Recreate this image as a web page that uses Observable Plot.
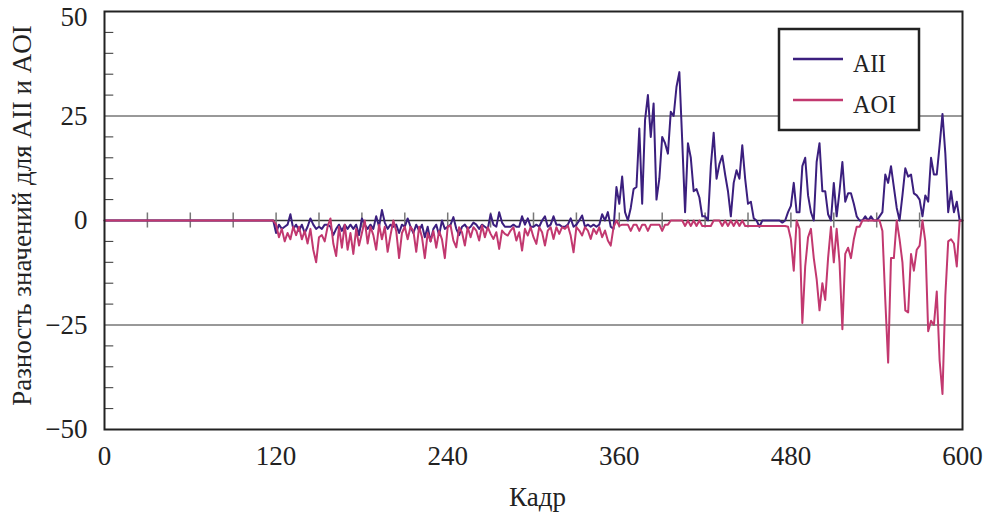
<!DOCTYPE html>
<html>
<head>
<meta charset="utf-8">
<script src="https://cdn.jsdelivr.net/npm/d3@7"></script>
<script src="https://cdn.jsdelivr.net/npm/@observablehq/plot@0.6"></script>
<style>
  html, body { margin: 0; padding: 0; background: #fff; }
  #chart { width: 985px; height: 521px; }
</style>
</head>
<body>
<div id="chart"></div>
<script>
// ---- data (frame index -> difference value) ----
const seriesNames = ["AII", "AOI"];
const seriesColors = ["#3b1f7e", "#c2386f"];

const leadFrames = [0, 118];          // flat section before tracking starts
const leadValues = [0, 0];
const startFrame = 120;               // sampled every 2 frames from here
const frameStep = 2;

const aii120to240 = [-3,-1,-2,-1.5,-1,1.5,-2,-1,-2.5,-1,-3,-1.5,0.5,-1,-2,-1.5,-2,-1,-1,-1.5,-3.5,-2,-1,-2.5,-1,-2,-1,-2,-1,-3.5,0.5,-1,-2,-1,-2,1,-1.5,2.5,-0.5,-2,-1,-1.5,-1,-3,-1,-1.5,0.5,-1.5,-3,-1,-2.5,-1,-4,-1.5,-5,-2,-1,-3.5,0,-2,-1.5];
const aii242to358 = [-1,0.8,-2,-3.5,-1.5,-1,-2,-1.5,-0.5,-1,-2,-1,-1.5,-2,1.5,-1,-1.5,2,-0.5,-1.5,-1.5,-1.5,-1,-1.5,-1.5,1,-1,0.5,-1.5,-1.5,-1,-1.5,0,1,-1.5,-1,1,-1,-1,-1.5,-1.5,-1,0.5,-1.5,-1,0,1.2,-1.5,-1,-1.5,-1,-1.5,-1,1.5,0,2,-1.5,-2,8];
const aii360to470 = [4,10.5,2,0,3,7.5,8,22,4,24,30,20,28,5,10,20,18.5,16,26,25,32,35.5,19,2,18.5,15,7,7.5,5.5,1,1,0,13,21,10,13.5,15.5,11,7,1,9,12,10,18,10,4,4.5,0.5,0,-1.5,0,0,0,0,0,0];
const aii472to600 = [0,-0.5,0,2,3.5,9,2,2,13,15,6,2,0,14,18.5,7,7,1.5,0,9,1,7,14,4.5,6.5,6.5,4,1,0,0,1,0,1,0,0,1,2,11,9,13,8,3,0,6,12.5,10.5,11,6.5,6,5,1,6,4.5,15,11,11,18,25.5,16,2,7,2,4.5,0,0];

const aoi120to240 = [-1,-4,-2,-5,-3,-4.5,-1.5,-3.5,-1.5,-4.5,-2.5,-5.5,-2,-7,-10,-4,-3.5,-5,-1.5,0.5,-5.5,-8.5,-1.5,-6.5,-1,-7,-3,-8,-2,-6,-3,0,-5.5,-1.5,-3.5,-7,-1,-4.5,-1.5,-7.5,-3.5,0,-2.5,-9,-3,-1.5,-4.5,-1.5,-2.5,-7.5,-1.5,-4,-9,-3,-5,-2.5,-6.5,-2.5,-4.5,-9,-1.5];
const aoi242to358 = [-1.2,-4.8,-6.4,-1.6,-2.8,-6,-1.6,-4,-1.6,-2.4,-4.8,-1.2,-4,-1.6,-3.2,-4.4,-2.8,-6.8,-2.4,-3.2,-3.6,-2.4,-1.6,-4.8,-2.8,-7.2,-2,-3.6,-1.6,-4,-5.6,-1.6,-2.8,-6,-2.4,-1.6,-4.4,-1.6,-3.2,-1.6,-2,-1.2,-3.6,-7.6,-1.6,-2.4,-3.6,-1.6,-2.4,-4.4,-2,-3.2,-1.6,-4,-2.4,-4.8,-6,-1.6,0];
const aoi360to470 = [-1.3,-1,-1,-1,-2.5,-1,-1,-2.5,-1,-1,-2.5,-1,-1,-1,-1,-2.5,-1,-1,0,0,0,0,0,-1.3,0,-1.3,0,-1.3,0,-1.3,-1.3,-1.3,-1.3,0,0,0,-1.3,0,-1.3,0,-1.3,0,-1.3,0,-1.3,-1.3,-1.3,-1.3,-1.3,-1.3,-1.3,-1.3,-1.3,-1.3,-1.3,-1.3];
const aoi472to600 = [-1.3,-1.3,-1.3,-1.5,-4.5,-12,0,-2,-24.5,-11,-4,-2,-9,-14,-21.5,-15,-19,-9,-1.5,-10,-2,-10,-26,-8,-6.5,-9,-4.5,-1.5,-1.5,0,0,0,0,0,0,0,-2.5,-19,-34,-9,-9,0,-4.5,-10,-21.5,-22,-8,-12,-7,-6,0,-5,-26.5,-24,-25,-17,-33.5,-41.5,-18,-5,-4.5,-5.5,-11,0,0];

const xTicks = [0, 120, 240, 360, 480, 600];
const yTicks = [-50, -25, 0, 25, 50];
const yGrid = [-25, 25];
const yMinorTicks = [-45,-40,-35,-30,-20,-15,-10,-5,5,10,15,20,30,35,40,45];
const zeroLineTicks = [30,60,90,120,150,180,210,240,270,300,330,360,390,420,450,480,510,540,570];
const xLabel = "Кадр";
const yLabel = "Разность значений для AII и AOI";

// ---- build table ----
function buildSeries(name, parts) {
  const rows = leadFrames.map((f, i) => ({frame: f, value: leadValues[i], series: name}));
  const vals = [].concat(...parts);
  vals.forEach((v, i) => rows.push({frame: startFrame + i * frameStep, value: v, series: name}));
  return rows;
}
const aiiRows = buildSeries("AII", [aii120to240, aii242to358, aii360to470, aii472to600]);
const aoiRows = buildSeries("AOI", [aoi120to240, aoi242to358, aoi360to470, aoi472to600]);

const fmt = d => d < 0 ? "\u2212" + Math.abs(d) : String(d);
const FONT = "'Liberation Serif', 'Times New Roman', serif";
const yMax = d3.max(yTicks);

const chart = Plot.plot({
  width: 985,
  height: 521,
  marginLeft: 104,
  marginRight: 23,
  marginTop: 11,
  marginBottom: 92,
  x: {domain: [0, 600], axis: null},
  y: {domain: [-50, 50], axis: null},
  style: {fontFamily: FONT, background: "white", color: "#222"},
  marks: [
    Plot.ruleY(yGrid, {stroke: "#333", strokeWidth: 1}),
    Plot.ruleY([0], {stroke: "#333", strokeWidth: 1.5}),
    Plot.ruleX(zeroLineTicks, {x: d => d, y1: -1.8, y2: 1.8, stroke: "#777", strokeWidth: 1.5}),
    Plot.ruleY(yMinorTicks, {y: d => d, x1: 0, x2: 6.5, stroke: "#333", strokeWidth: 1}),
    Plot.line(aiiRows, {x: "frame", y: "value", stroke: seriesColors[0], strokeWidth: 2}),
    Plot.line(aoiRows, {x: "frame", y: "value", stroke: seriesColors[1], strokeWidth: 2}),
    Plot.frame({stroke: "#222", strokeWidth: 2}),
    Plot.text(yTicks.filter(d => d !== yMax), {x: 0, y: d => d, text: fmt, dx: -17, textAnchor: "end", lineAnchor: "middle", fontSize: 27, fill: "#222", ariaLabel: "ytick"}),
    Plot.text(yTicks.filter(d => d === yMax), {x: 0, y: d => d, text: fmt, dx: -17, dy: 6, textAnchor: "end", lineAnchor: "middle", fontSize: 27, fill: "#222", ariaLabel: "ytick"}),
    Plot.text(xTicks, {x: d => d, y: -50, text: fmt, dy: 27, lineAnchor: "middle", fontSize: 27, fill: "#222", ariaLabel: "xtick"}),
    Plot.text([xLabel], {frameAnchor: "bottom", text: d => d, dx: 4, dy: 68, textAnchor: "middle", lineAnchor: "middle", fontSize: 27, fill: "#222", ariaLabel: "xlabel"}),
    Plot.text([yLabel], {frameAnchor: "left", text: d => d, rotate: -90, dx: -82, dy: -5, textAnchor: "middle", lineAnchor: "middle", fontSize: 27, fill: "#222", ariaLabel: "ylabel"})
  ]
});

document.getElementById("chart").appendChild(chart);

// Condense glyphs horizontally like the reference typesetting
const svg = d3.select(chart);
function condense(label, perChar, minusW) {
  svg.selectAll(`g[aria-label="${label}"] text`).each(function() {
    const t = this.textContent;
    let w = 0;
    for (const ch of t) w += ch === "\u2212" ? minusW : perChar;
    d3.select(this).attr("textLength", w).attr("lengthAdjust", "spacingAndGlyphs");
  });
}
condense("ytick", 11.8, 9.5);
condense("xtick", 11.5, 9.5);
svg.selectAll('g[aria-label="xlabel"] text').attr("textLength", 48).attr("lengthAdjust", "spacingAndGlyphs");
svg.selectAll('g[aria-label="ylabel"] text').attr("textLength", 372).attr("lengthAdjust", "spacingAndGlyphs");

// Legend box
const lg = svg.append("g").attr("font-family", FONT).attr("text-anchor", "start");
lg.append("rect").attr("x", 779).attr("y", 29).attr("width", 140).attr("height", 101)
  .attr("fill", "white").attr("stroke", "#222").attr("stroke-width", 2.5);
seriesNames.forEach((name, i) => {
  const yy = 59 + i * 41;
  lg.append("line").attr("x1", 793).attr("x2", 843).attr("y1", yy).attr("y2", yy)
    .attr("stroke", seriesColors[i]).attr("stroke-width", 2.5);
  lg.append("text").attr("x", 853).attr("y", yy + 13).attr("font-size", 26).attr("fill", "#222")
    .attr("text-anchor", "start")
    .attr("textLength", i === 0 ? 33 : 43).attr("lengthAdjust", "spacingAndGlyphs").text(name);
});
</script>
</body>
</html>
